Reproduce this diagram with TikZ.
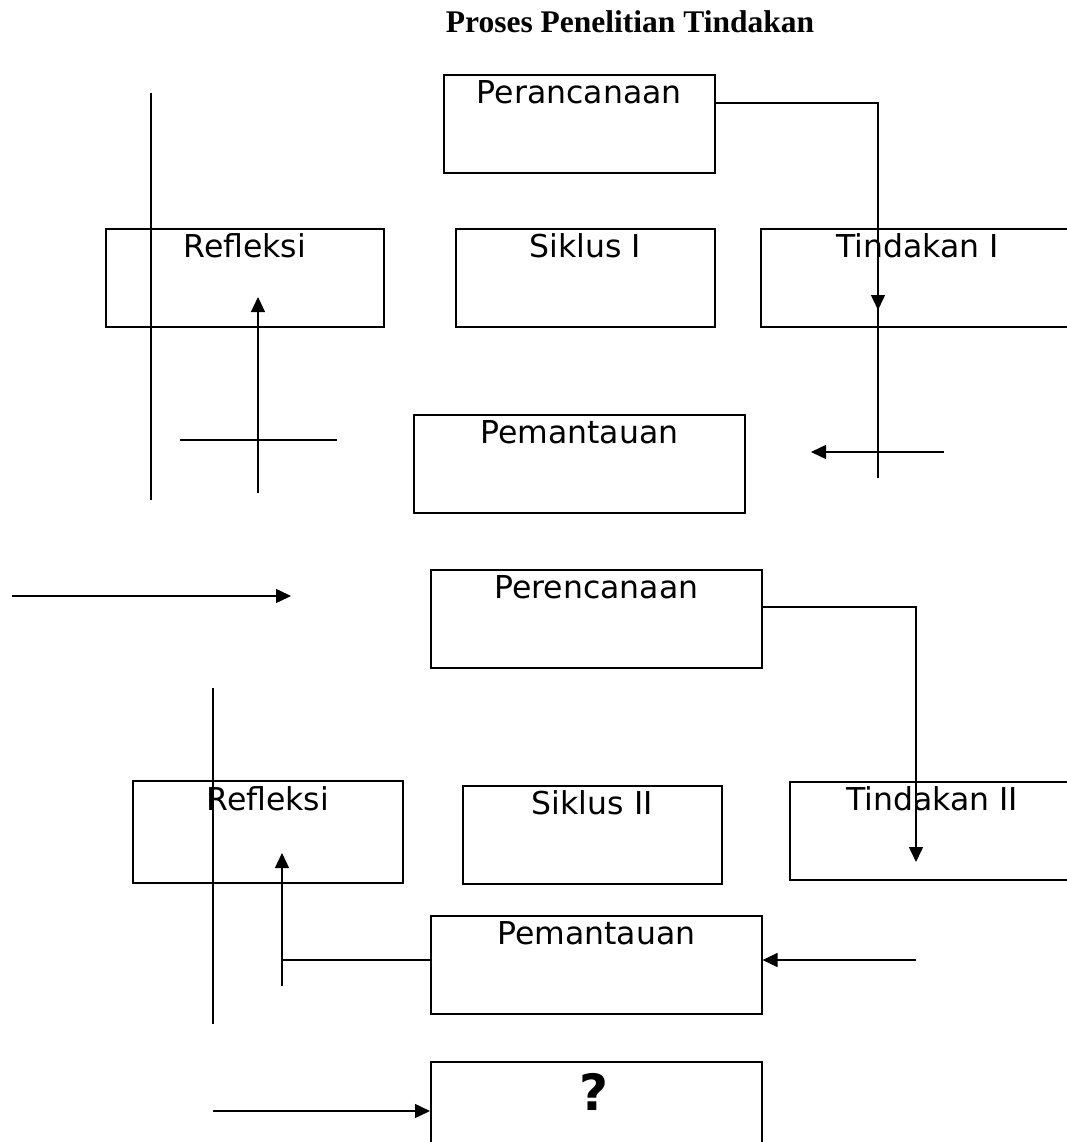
\documentclass[tikz,border=0pt]{standalone}
\usepackage{fontspec}
\setmainfont{DejaVu Sans}
\newfontfamily\titlefont{Liberation Serif}
\usetikzlibrary{arrows.meta}
\begin{document}
\begin{tikzpicture}[x=1pt,y=-1pt,
  box/.style={draw, line width=1.6pt, anchor=north west, inner sep=0pt},
  lbl/.style={anchor=base, inner sep=0pt, font=\fontsize{31.5}{31.5}\selectfont},
  ln/.style={line width=1.5pt},
  thin/.style={line width=1.1pt},
  arr/.style={line width=1.5pt, -{Triangle[length=15pt,width=14pt]}}]
\useasboundingbox (0,0) rectangle (1067,1142);
\clip (0,0) rectangle (1067,1142);

% title
\node[anchor=base, inner sep=0pt, font=\titlefont\bfseries\fontsize{31.5}{31.5}\selectfont]
  (title) at (630,33) {Proses Penelitian Tindakan};

% ---- cycle I ----
\node[box, minimum width=271pt, minimum height=98pt] (plan1) at (443,74) {};
\node[lbl] (plan1t) at ([yshift=-30pt]plan1.north) {Perancanaan};

\node[box, minimum width=278pt, minimum height=98pt] (refl1) at (105,228) {};
\node[lbl] (refl1t) at ([yshift=-29pt]refl1.north) {Refleksi};

\node[box, minimum width=259pt, minimum height=98pt] (cyc1) at (455,228) {};
\node[lbl] (cyc1t) at ([yshift=-29pt]cyc1.north) {Siklus I};

\node[box, minimum width=314pt, minimum height=98pt] (act1) at (760,228) {};
\node[lbl] (act1t) at ([yshift=-29pt]act1.north) {Tindakan I};

\node[box, minimum width=331pt, minimum height=98pt] (obs1) at (413,414) {};
\node[lbl] (obs1t) at ([yshift=-29pt]obs1.north) {Pemantauan};

% connectors of cycle I
\coordinate (a1) at (878,478);
\draw[ln] (plan1.north east |- 0,103) -| (a1);
\draw[arr] (878,260) -- (878,310);

\coordinate (l1top) at (151,93);
\coordinate (l1bot) at (151,500);
\draw[thin] (l1top) -- (l1bot);

\coordinate (u1s) at (258,493);
\coordinate (u1e) at (258,297);
\draw[arr, line width=1.3pt] (u1s) -- (u1e);

\coordinate (h1s) at (180,440);
\coordinate (h1e) at (337,440);
\draw[ln] (h1s) -- (h1e);

\coordinate (w1s) at (944,452);
\coordinate (w1e) at (811,452);
\draw[arr] (w1s) -- (w1e);

\coordinate (r1s) at (12,596);
\coordinate (r1e) at (291,596);
\draw[arr] (r1s) -- (r1e);

% ---- cycle II ----
\node[box, minimum width=331pt, minimum height=98pt] (plan2) at (430,569) {};
\node[lbl] (plan2t) at ([yshift=-29pt]plan2.north) {Perencanaan};

\node[box, minimum width=270pt, minimum height=102pt] (refl2) at (132,780) {};
\node[lbl] (refl2t) at ([yshift=-30pt]refl2.north) {Refleksi};

\node[box, minimum width=259pt, minimum height=98pt] (cyc2) at (462,785) {};
\node[lbl] (cyc2t) at ([yshift=-29pt]cyc2.north) {Siklus II};

\node[box, minimum width=285pt, minimum height=98pt] (act2) at (789,781) {};
\node[lbl] (act2t) at ([yshift=-29pt]act2.north) {Tindakan II};

\node[box, minimum width=331pt, minimum height=98pt] (obs2) at (430,915) {};
\node[lbl] (obs2t) at ([yshift=-29pt]obs2.north) {Pemantauan};

\node[box, minimum width=331pt, minimum height=120pt] (next) at (430,1061) {};
\node[anchor=base, inner sep=0pt, font=\bfseries\fontsize{50}{50}\selectfont]
  (nextt) at (594,1110) {?};

% connectors of cycle II
\coordinate (a2) at (916,862);
\draw[arr] (plan2.north east |- 0,607) -| (a2);

\coordinate (l2top) at (213,688);
\coordinate (l2bot) at (213,1024);
\draw[thin] (l2top) -- (l2bot);

\coordinate (u2s) at (282,986);
\coordinate (u2e) at (282,853);
\draw[arr, line width=1.3pt] (u2s) -- (u2e);
\draw[ln] (obs2.west |- 0,960) -- (282,960);

\coordinate (w2s) at (916,960);
\draw[arr] (w2s) -- (obs2.east |- 0,960);

\coordinate (r2s) at (213,1111);
\draw[arr] (r2s) -- (next.west |- 0,1111);
\end{tikzpicture}
\end{document}
